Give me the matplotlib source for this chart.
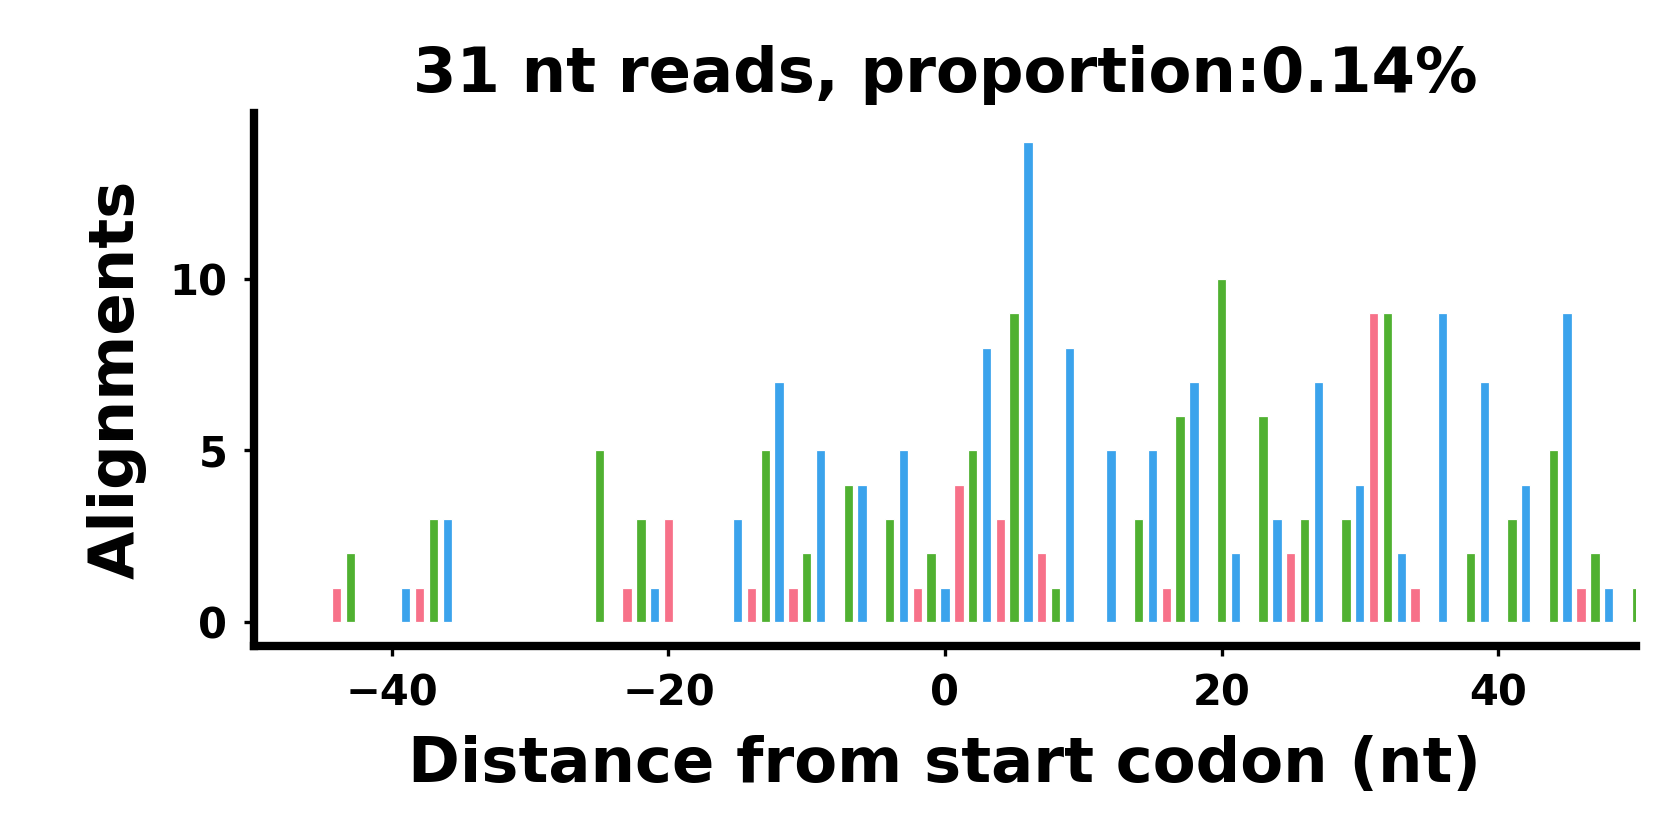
import matplotlib
matplotlib.use("Agg")
import matplotlib.pyplot as plt

# distance from start codon (nt) and number of alignments, 31 nt reads
distancias = [-44, -43, -39, -38, -37, -36, -25, -23, -22, -21, -20,
              -15, -14, -13, -12, -11, -10, -9, -7, -6, -4, -3, -2, -1,
              0, 1, 2, 3, 4, 5, 6, 7, 8, 9, 12, 14, 15, 16, 17, 18,
              20, 21, 23, 24, 25, 26, 27, 29, 30, 31, 32, 33, 34, 36,
              38, 39, 41, 42, 44, 45, 46, 47, 48, 50]
conteos = [1, 2, 1, 1, 3, 3, 5, 1, 3, 1, 3,
           3, 1, 5, 7, 1, 2, 5, 4, 4, 3, 5, 1, 2,
           1, 4, 5, 8, 3, 9, 14, 2, 1, 8, 5, 3, 5, 1, 6, 7,
           10, 2, 6, 3, 2, 3, 7, 3, 4, 9, 9, 2, 1, 9,
           2, 7, 3, 4, 5, 9, 1, 2, 1, 1]

# colour per reading frame (position mod 3)
colores_marco = {0: "#3ba3ec", 1: "#f77189", 2: "#50b131"}

titulo = "31 nt reads, proportion:0.14%"

fig = plt.figure(figsize=(5.6, 2.8), dpi=300)
ax = fig.add_axes([0.151, 0.231, 0.823, 0.635])

colores = [colores_marco[d % 3] for d in distancias]
ax.bar(distancias, conteos, width=0.68, color=colores, edgecolor="white", linewidth=0.3)

ax.set_xlim(-50, 50)
ax.set_ylim(-0.7, 14.85)
ax.set_yticks([0, 5, 10])
ax.set_xticks([-40, -20, 0, 20, 40])

for lado in ["top", "right"]:
    ax.spines[lado].set_visible(False)
for lado in ["left", "bottom"]:
    ax.spines[lado].set_linewidth(2)

ax.tick_params(axis="both", labelsize=10, width=0.8, length=2.3, pad=4)
for lbl in ax.get_xticklabels() + ax.get_yticklabels():
    lbl.set_fontweight("bold")

ax.set_title(titulo, fontsize=15, fontweight="bold", pad=5)
ax.set_xlabel("Distance from start codon (nt)", fontsize=15, fontweight="bold", labelpad=5)
ax.set_ylabel("Alignments", fontsize=15, fontweight="bold", labelpad=5.5)

fig.savefig("out.png", dpi=300)
